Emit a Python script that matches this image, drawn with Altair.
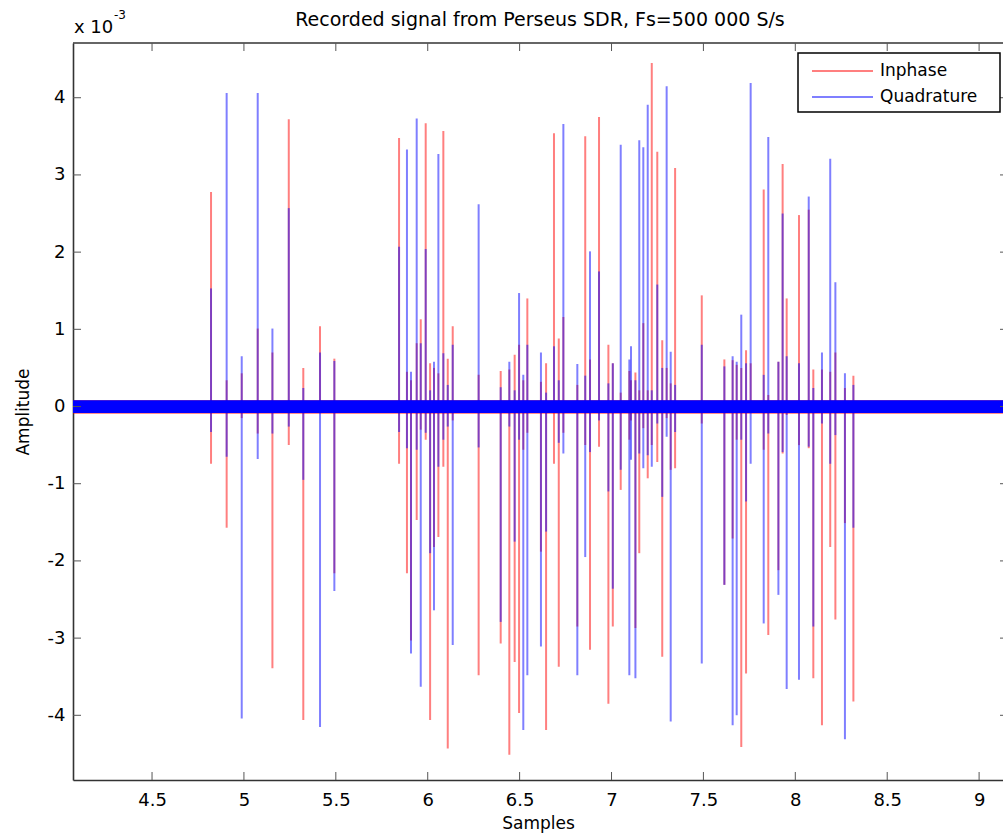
import altair as alt
import pandas as pd

# ---------------- data ----------------
sample_pos = [4.821, 4.906, 4.988, 5.075, 5.155, 5.244, 5.323, 5.414, 5.492,
              5.844, 5.887, 5.909, 5.940, 5.962, 5.989, 6.013, 6.034, 6.058, 6.085, 6.109, 6.136,
              6.277, 6.397, 6.444, 6.473, 6.497, 6.520, 6.542, 6.616, 6.644, 6.687, 6.713, 6.738,
              6.814, 6.857, 6.883, 6.932, 6.983, 7.007, 7.050, 7.097, 7.106, 7.130, 7.151, 7.173,
              7.197, 7.219, 7.249, 7.276, 7.300, 7.322, 7.346, 7.491, 7.614, 7.659, 7.681, 7.706,
              7.732, 7.757, 7.828, 7.853, 7.908, 7.931, 7.953, 8.020, 8.073, 8.098, 8.145, 8.190,
              8.218, 8.270, 8.316]

inphase_max = [2.78, 0.34, 0.43, 1.01, 0.70, 3.72, 0.50, 1.04, 0.62,
               3.48, 0.45, 0.34, 0.82, 1.13, 3.67, 0.56, 0.50, 0.43, 3.57, 0.62, 1.04,
               0.41, 0.46, 0.48, 0.67, 0.80, 0.34, 1.40, 0.32, 0.56, 3.54, 0.88, 1.16,
               0.28, 3.50, 0.61, 3.75, 0.80, 0.56, 0.18, 0.46, 0.34, 0.44, 0.21, 1.08,
               0.21, 4.45, 3.30, 0.86, 0.50, 0.30, 3.09, 1.44, 0.61, 0.60, 0.54, 0.50,
               0.73, 0.56, 2.81, 0.15, 0.58, 3.14, 1.40, 2.48, 2.55, 0.48, 0.48, 0.45,
               0.70, 0.24, 0.40]
inphase_min = [-0.74, -1.57, -0.15, -0.35, -3.39, -0.50, -4.06, -0.07, -2.16,
               -0.74, -2.16, -3.03, -1.47, -0.30, -0.43, -4.06, -1.82, -1.69, -0.78, -4.43, -0.18,
               -3.48, -3.07, -4.51, -3.31, -3.97, -0.56, -0.34, -1.88, -4.19, -0.74, -3.37, -0.34,
               -2.85, -0.50, -3.15, -0.52, -3.85, -2.85, -1.08, -0.43, -0.18, -2.87, -1.90, -0.28,
               -0.93, -0.50, -0.72, -3.24, -0.15, -0.82, -0.80, -0.22, -2.31, -1.71, -0.43, -4.41,
               -3.46, -0.07, -0.56, -2.96, -2.12, -0.61, -0.11, -0.50, -0.54, -3.52, -4.13, -1.82,
               -2.76, -1.51, -3.82]
quad_max = [1.53, 4.06, 0.65, 4.06, 1.01, 2.57, 0.24, 0.70, 0.59,
            2.07, 3.33, 0.45, 3.73, 0.82, 2.04, 0.21, 0.58, 3.27, 0.69, 0.28, 0.80,
            2.62, 0.25, 0.58, 0.21, 1.47, 0.41, 0.80, 0.70, 0.18, 0.78, 0.34, 3.66,
            0.55, 0.40, 2.01, 1.75, 0.30, 0.56, 3.39, 0.61, 0.78, 0.34, 3.45, 3.36,
            3.91, 0.21, 1.58, 0.50, 4.15, 0.71, 0.28, 0.80, 0.52, 0.65, 0.58, 1.19,
            0.56, 4.19, 0.41, 3.49, 0.58, 2.50, 0.65, 0.56, 2.72, 0.24, 0.70, 3.21,
            1.61, 0.43, 0.28]
quad_min = [-0.33, -0.65, -4.04, -0.68, -0.35, -0.26, -0.95, -4.15, -2.39,
            -0.33, -0.54, -3.20, -0.56, -3.63, -0.34, -1.90, -2.64, -0.78, -0.43, -0.26, -3.09,
            -0.53, -2.79, -0.26, -1.75, -0.43, -4.19, -3.48, -3.11, -1.62, -0.08, -0.47, -0.61,
            -3.48, -1.95, -0.59, -0.18, -1.10, -2.36, -0.82, -3.48, -0.69, -3.52, -0.61, -0.80,
            -0.63, -0.78, -0.22, -1.17, -0.39, -4.08, -0.33, -3.33, -2.31, -4.13, -4.00, -0.43,
            -1.23, -0.74, -2.81, -0.35, -2.44, -0.59, -3.66, -3.54, -0.52, -2.85, -0.22, -0.74,
            -0.37, -4.31, -1.57]

# background noise envelope (x 1e-3)
inphase_noise = [-0.095, 0.085]
quad_noise = [-0.085, 0.08]

x_ticks = [4.5, 5, 5.5, 6, 6.5, 7, 7.5, 8, 8.5, 9]
y_ticks = [-4, -3, -2, -1, 0, 1, 2, 3, 4]
series_names = ["Inphase", "Quadrature"]
series_colors = ["#ff0000", "#0000ff"]
title_text = "Recorded signal from Perseus SDR, Fs=500 000 S/s"

# ---------------- layout ----------------
W, H = 930, 737
FONT = "DejaVu Sans"
AX = "#333333"
TICK = "#555555"

x_scale = alt.Scale(domain=[4.07, 9.13], nice=False, zero=False)
y_scale = alt.Scale(domain=[-4.838, 4.709], nice=False, zero=False)

x_axis = alt.Axis(values=x_ticks, format=".1~f", title="Samples", grid=False, ticks=False,
                  domain=True, domainColor=AX, domainWidth=1.6,
                  labelFont=FONT, labelFontSize=18, labelColor="black", labelPadding=11,
                  titleFont=FONT, titleFontSize=17, titleFontWeight="normal",
                  titleColor="black", titlePadding=6)
y_axis = alt.Axis(values=y_ticks, format="d", labelExpr="replace(datum.label, '\u2212', '-')",
                  title="Amplitude", grid=False, ticks=False,
                  domain=True, domainColor=AX, domainWidth=1.6,
                  labelFont=FONT, labelFontSize=18, labelColor="black", labelPadding=8,
                  titleFont=FONT, titleFontSize=17, titleFontWeight="normal",
                  titleColor="black", titlePadding=15)

spikes = pd.DataFrame({"x": sample_pos, "i_hi": inphase_max, "i_lo": inphase_min,
                       "q_hi": quad_max, "q_lo": quad_min})

red_spikes = alt.Chart(spikes).mark_rule(color=series_colors[0], strokeWidth=2, opacity=0.5).encode(
    x=alt.X("x:Q", scale=x_scale, axis=x_axis),
    y=alt.Y("i_hi:Q", scale=y_scale, axis=y_axis),
    y2="i_lo:Q",
)
blue_spikes = alt.Chart(spikes).mark_rule(color=series_colors[1], strokeWidth=2, opacity=0.5).encode(
    x=alt.X("x:Q", scale=x_scale, axis=x_axis),
    y=alt.Y("q_hi:Q", scale=y_scale, axis=y_axis),
    y2="q_lo:Q",
)

red_band = alt.Chart(pd.DataFrame({"lo": [inphase_noise[0]], "hi": [inphase_noise[1]]})).mark_rect(
    color=series_colors[0], opacity=0.6).encode(
    x=alt.value(0), x2=alt.value(W),
    y=alt.Y("hi:Q", scale=y_scale, axis=y_axis), y2="lo:Q")
blue_band = alt.Chart(pd.DataFrame({"lo": [quad_noise[0]], "hi": [quad_noise[1]]})).mark_rect(
    color=series_colors[1], opacity=1).encode(
    x=alt.value(0), x2=alt.value(W),
    y=alt.Y("hi:Q", scale=y_scale, axis=y_axis), y2="lo:Q")

# frame top line
one = pd.DataFrame({"a": [0]})
top_line = alt.Chart(one).mark_rule(color=AX, strokeWidth=1.6).encode(
    x=alt.value(0), x2=alt.value(W), y=alt.value(0))

# inward ticks (MATLAB style)
xt = pd.DataFrame({"xt": x_ticks})
yt = pd.DataFrame({"yt": y_ticks})
bottom_ticks = alt.Chart(xt).mark_rule(color=TICK, strokeWidth=1).encode(
    x=alt.X("xt:Q", scale=x_scale, axis=x_axis), y=alt.value(H), y2=alt.value(H - 8))
top_ticks = alt.Chart(xt).mark_rule(color=TICK, strokeWidth=1).encode(
    x=alt.X("xt:Q", scale=x_scale, axis=x_axis), y=alt.value(0), y2=alt.value(8))
left_ticks = alt.Chart(yt).mark_rule(color=TICK, strokeWidth=1).encode(
    y=alt.Y("yt:Q", scale=y_scale, axis=y_axis), x=alt.value(0), x2=alt.value(8))
right_ticks = alt.Chart(yt).mark_rule(color=TICK, strokeWidth=1).encode(
    y=alt.Y("yt:Q", scale=y_scale, axis=y_axis), x=alt.value(W - 3), x2=alt.value(W))

# title and exponent label
title_mark = alt.Chart(pd.DataFrame({"t": [title_text]})).mark_text(
    font=FONT, fontSize=19, align="center", baseline="alphabetic", color="black").encode(
    x=alt.value(W / 2 + 2), y=alt.value(-17), text="t:N")
exp_base = alt.Chart(pd.DataFrame({"t": ["x 10"]})).mark_text(
    font=FONT, fontSize=18, align="left", baseline="alphabetic", color="black").encode(
    x=alt.value(1), y=alt.value(-10), text="t:N")
exp_pow = alt.Chart(pd.DataFrame({"t": ["-3"]})).mark_text(
    font=FONT, fontSize=12, align="left", baseline="alphabetic", color="black").encode(
    x=alt.value(41), y=alt.value(-24), text="t:N")

# legend (drawn manually, MATLAB style)
LX0, LX1, LY0, LY1 = 725, 927, 10, 69
leg_box = alt.Chart(one).mark_rect(fill="white", stroke="black", strokeWidth=1.5).encode(
    x=alt.value(LX0), x2=alt.value(LX1), y=alt.value(LY0), y2=alt.value(LY1))
leg_layers = [leg_box]
for i, (name, col) in enumerate(zip(series_names, series_colors)):
    yy = 28 + 26 * i
    leg_layers.append(alt.Chart(one).mark_rule(color=col, strokeWidth=2, opacity=0.5).encode(
        x=alt.value(739), x2=alt.value(800), y=alt.value(yy)))
    leg_layers.append(alt.Chart(pd.DataFrame({"t": [name]})).mark_text(
        font=FONT, fontSize=17, align="left", baseline="middle", color="black").encode(
        x=alt.value(807), y=alt.value(yy), text="t:N"))

chart = alt.layer(
    red_band, red_spikes, blue_spikes, blue_band,
    top_line, bottom_ticks, top_ticks, left_ticks, right_ticks,
    title_mark, exp_base, exp_pow, *leg_layers,
).properties(
    width=W, height=H,
    autosize=alt.AutoSizeParams(type="none"),
    padding={"left": 73, "top": 43, "right": 0, "bottom": 57},
    background="white",
).configure_view(stroke=None)

chart.save("out.html", embed_options={"renderer": "svg", "actions": False})
